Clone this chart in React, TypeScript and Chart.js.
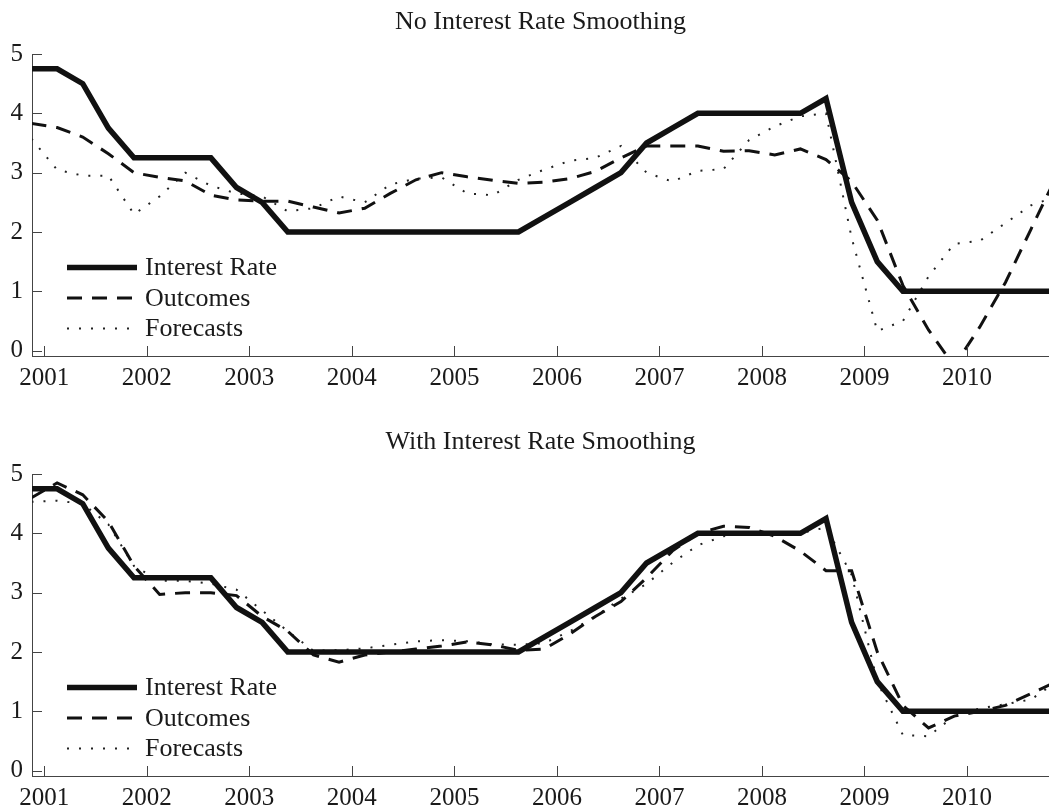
import React, { useEffect, useRef } from "react";
import { Chart, registerables } from "chart.js";

Chart.register(...registerables);

// Quarterly observation dates (decimal years)
const quarterDates = [
  2000.875, 2001.125, 2001.375, 2001.625, 2001.875, 2002.125, 2002.375, 2002.625, 2002.875, 2003.125,
  2003.375, 2003.625, 2003.875, 2004.125, 2004.375, 2004.625, 2004.875, 2005.125, 2005.375, 2005.625,
  2005.875, 2006.125, 2006.375, 2006.625, 2006.875, 2007.125, 2007.375, 2007.625, 2007.875, 2008.125,
  2008.375, 2008.625, 2008.875, 2009.125, 2009.375, 2009.625, 2009.875, 2010.125, 2010.375, 2010.625,
  2010.875,
];

const yearTicks = [2001, 2002, 2003, 2004, 2005, 2006, 2007, 2008, 2009, 2010];
const valueTicks = [0, 1, 2, 3, 4, 5];

const seriesNames = ["Interest Rate", "Outcomes", "Forecasts"];
const panelTitles = ["No Interest Rate Smoothing", "With Interest Rate Smoothing"];

const interestRate = [
  4.75, 4.75, 4.5, 3.75, 3.25, 3.25, 3.25, 3.25, 2.75, 2.5,
  2.0, 2.0, 2.0, 2.0, 2.0, 2.0, 2.0, 2.0, 2.0, 2.0,
  2.25, 2.5, 2.75, 3.0, 3.5, 3.75, 4.0, 4.0, 4.0, 4.0,
  4.0, 4.25, 2.5, 1.5, 1.0, 1.0, 1.0, 1.0, 1.0, 1.0,
  1.0,
];

const outcomesNoSmoothing = [
  3.83, 3.76, 3.6, 3.32, 3.0, 2.92, 2.86, 2.62, 2.54, 2.52,
  2.52, 2.42, 2.32, 2.4, 2.65, 2.88, 3.0, 2.93, 2.87, 2.82,
  2.84, 2.9, 3.02, 3.25, 3.45, 3.45, 3.45, 3.36, 3.37, 3.3,
  3.4, 3.22, 2.85, 2.2, 1.1, 0.35, -0.26, 0.4, 1.15, 2.05,
  2.95,
];

const forecastsNoSmoothing = [
  3.57, 3.05, 2.95, 2.95, 2.3, 2.6, 3.0, 2.78, 2.65, 2.6,
  2.35, 2.4, 2.6, 2.5, 2.8, 2.9, 2.92, 2.65, 2.62, 2.88,
  3.05, 3.2, 3.25, 3.45, 3.0, 2.85, 3.03, 3.06, 3.55, 3.78,
  3.95, 4.0, 1.9, 0.33, 0.5, 1.25, 1.8, 1.85, 2.15, 2.45,
  2.6,
];

const outcomesSmoothing = [
  4.6, 4.85, 4.65, 4.2, 3.45, 2.97, 3.0, 3.0, 2.95, 2.6,
  2.35, 1.95, 1.83, 1.95, 2.0, 2.05, 2.1, 2.17, 2.12, 2.03,
  2.05, 2.3, 2.6, 2.85, 3.25, 3.7, 4.0, 4.12, 4.1, 3.95,
  3.7, 3.37, 3.37, 2.0, 1.1, 0.72, 0.92, 1.0, 1.1, 1.3,
  1.5,
];

const forecastsSmoothing = [
  4.53, 4.55, 4.5, 4.15, 3.45, 3.2, 3.2, 3.15, 3.05, 2.7,
  2.35, 2.02, 2.03, 2.06, 2.12, 2.18, 2.2, 2.18, 2.13, 2.12,
  2.15, 2.35, 2.6, 2.9, 3.15, 3.5, 3.8, 3.95, 4.0, 4.0,
  4.0, 4.1, 3.3, 1.5, 0.6, 0.58, 0.92, 1.05, 1.12, 1.2,
  1.5,
];

const FONT = "'Liberation Serif', 'Times New Roman', serif";
const INK = "#1a1a1a";
const AXIS = "#444";

const PLOT_TOP = 54;
const PLOT_BOTTOM = 356;

const toPoints = (vals: number[]) => vals.map((v, i) => ({ x: quarterDates[i], y: v }));

const insideTicks = {
  id: "insideTicks",
  afterDraw(chart: any) {
    const { ctx, chartArea, scales } = chart;
    ctx.save();
    ctx.strokeStyle = AXIS;
    ctx.lineWidth = 1;
    scales.x.ticks.forEach((t: any) => {
      const px = Math.round(scales.x.getPixelForValue(t.value)) + 0.5;
      ctx.beginPath();
      ctx.moveTo(px, chartArea.bottom);
      ctx.lineTo(px, chartArea.bottom - 10);
      ctx.stroke();
    });
    scales.y.ticks.forEach((t: any) => {
      const py = Math.round(scales.y.getPixelForValue(t.value)) + 0.5;
      ctx.beginPath();
      ctx.moveTo(chartArea.left, py);
      ctx.lineTo(chartArea.left + 10, py);
      ctx.stroke();
    });
    ctx.restore();
  },
};

const innerLegend = {
  id: "innerLegend",
  afterDraw(chart: any) {
    const { ctx, chartArea } = chart;
    const rowOffsets = [88.5, 58, 27.5];
    chart.data.datasets.forEach((ds: any, i: number) => {
      const y = chartArea.bottom - rowOffsets[i];
      ctx.save();
      ctx.strokeStyle = ds.borderColor;
      ctx.lineWidth = ds.borderWidth;
      ctx.setLineDash(ds.borderDash || []);
      ctx.lineCap = "butt";
      ctx.beginPath();
      ctx.moveTo(chartArea.left + 35, y);
      ctx.lineTo(chartArea.left + 105, y);
      ctx.stroke();
      ctx.setLineDash([]);
      ctx.fillStyle = INK;
      ctx.font = `26px ${FONT}`;
      ctx.textBaseline = "middle";
      ctx.textAlign = "left";
      ctx.fillText(ds.label, chartArea.left + 113, y + 1);
      ctx.restore();
    });
  },
};

function Panel({ title, outcomes, forecasts, top, height }: any) {
  const ref = useRef<HTMLCanvasElement | null>(null);
  useEffect(() => {
    if (!ref.current) return;
    const chart = new Chart(ref.current, {
      type: "line",
      data: {
        datasets: [
          {
            label: seriesNames[0],
            data: toPoints(interestRate),
            borderColor: "#111",
            borderWidth: 5.5,
            borderDash: [],
            pointRadius: 0,
            tension: 0,
          },
          {
            label: seriesNames[1],
            data: toPoints(outcomes),
            borderColor: "#111",
            borderWidth: 3,
            borderDash: [15, 10],
            pointRadius: 0,
            tension: 0,
          },
          {
            label: seriesNames[2],
            data: toPoints(forecasts),
            borderColor: "#222",
            borderWidth: 2,
            borderDash: [2, 10],
            pointRadius: 0,
            tension: 0,
          },
        ],
      },
      options: {
        animation: false,
        responsive: false,
        events: [],
        layout: { padding: 0 },
        plugins: {
          legend: { display: false },
          tooltip: { enabled: false },
          title: {
            display: true,
            text: title,
            fullSize: false,
            color: INK,
            font: { family: FONT, size: 26, weight: "normal", lineHeight: 1.2 },
            padding: { top: 7, bottom: PLOT_TOP - 31.2 - 7 },
          },
        },
        scales: {
          x: {
            type: "linear",
            min: 2000.88,
            max: 2010.8,
            afterBuildTicks: (s: any) => {
              s.ticks = yearTicks.map((v) => ({ value: v }));
            },
            afterFit: (s: any) => {
              s.height = height - PLOT_BOTTOM;
            },
            grid: { display: false, drawTicks: false, tickLength: 0 },
            border: { display: true, color: AXIS, width: 1 },
            ticks: {
              color: INK,
              font: { family: FONT, size: 25, lineHeight: 1.2 },
              padding: 7,
              maxRotation: 0,
              autoSkip: false,
              callback: (v: any) => String(v),
            },
          },
          y: {
            type: "linear",
            min: -0.09,
            max: 5,
            afterBuildTicks: (s: any) => {
              s.ticks = valueTicks.map((v) => ({ value: v }));
            },
            afterFit: (s: any) => {
              s.width = 32;
            },
            grid: { display: false, drawTicks: false, tickLength: 0 },
            border: { display: true, color: AXIS, width: 1 },
            ticks: {
              color: INK,
              font: { family: FONT, size: 25, lineHeight: 1.2 },
              padding: 9,
              callback: (v: any) => String(v),
            },
          },
        },
      },
      plugins: [insideTicks, innerLegend],
    } as any);
    return () => chart.destroy();
  }, []);
  return (
    <div style={{ position: "absolute", left: 0, top, width: 1049, height }}>
      <canvas ref={ref} width={1049} height={height} style={{ display: "block" }} />
    </div>
  );
}

export default function App() {
  return (
    <div style={{ position: "absolute", left: 0, top: 0, width: 1049, height: 809, overflow: "hidden", background: "#fff" }}>
      <Panel title={panelTitles[0]} outcomes={outcomesNoSmoothing} forecasts={forecastsNoSmoothing} top={0} height={420} />
      <Panel title={panelTitles[1]} outcomes={outcomesSmoothing} forecasts={forecastsSmoothing} top={420} height={389} />
    </div>
  );
}
